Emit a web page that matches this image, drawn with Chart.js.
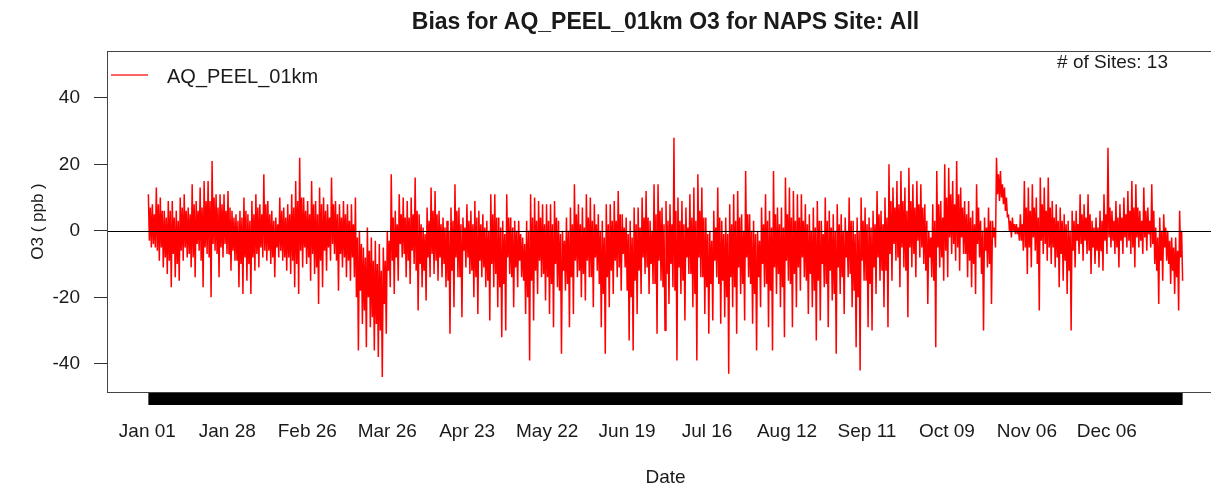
<!DOCTYPE html>
<html>
<head>
<meta charset="utf-8">
<title>Bias for AQ_PEEL_01km O3</title>
<script src="https://cdn.jsdelivr.net/npm/chart.js@4.4.1/dist/chart.umd.min.js"></script>
<style>
  html, body { margin: 0; padding: 0; background: #fff; overflow: hidden; }
  #wrap { position: relative; width: 1240px; height: 489px; }
</style>
</head>
<body>
<div id="wrap"><canvas id="biasChart"></canvas></div>
<script>
const chartTitle = 'Bias for AQ_PEEL_01km O3 for NAPS Site: All'
const seriesName = 'AQ_PEEL_01km'
const siteNote = '# of Sites: 13'
const yTitle = 'O3 ( ppb )'
const xTitle = 'Date'

const xTickLabels = ['Jan 01', 'Jan 28', 'Feb 26', 'Mar 26', 'Apr 23', 'May 22',
    'Jun 19', 'Jul 16', 'Aug 12', 'Sep 11', 'Oct 09', 'Nov 06', 'Dec 06']
const yTickValues = [-40, -20, 0, 20, 40]

// hourly bias squeezed into columns: highest and lowest hour in each column
const biasHigh = [
    11, 8, 13, 10, 6, 9, 9, 6, 10, 11, 7, 14, 9, 13, 15, 15, 21, 11, 11, 11,
    12, 6, 5, 6, 10, 5, 9, 11, 8, 17, 9,
    6, 4, 10, 7, 8, 11, 15, 22, 10, 9, 15, 9, 13, 10, 8, 16, 9, 8, 9, 8,
    8, 10, 0, -5, 1, -2, -3, -4, -5, 0, 17, 6, 11,
    10, 9, 10, 16, 5, 1, 7, 13, 12, 6, 4, 3, 7, 14, 7, 4, 8, 6, 9, 6,
    5, 3, 11, 11, 4, 3, 11, 4, 3, 3, -2, 3, 11,
    10, 9, 8, 8, 8, 9, 3, 0, 4, 7, 14, 8, 7, 11, 10, 8, 5, 3, 8, 8,
    9, 12, 5, 4, 3, 7, 7, 10, 12, 3, 14, 14,
    7, 9, 8, 28, 10, 9, 7, 11, 13, 17, 13, 4, 0, 6, 13, 3, 4, 8, 11, 12,
    5, 18, 5, 3, 0, 7, 11, 6, 18, 7, 7, 16,
    13, 12, 11, 11, 8, 5, 7, 9, 3, 10, 6, 5, 8, 5, 4, 10, 3, 4, 10, 7,
    4, 6, 12, 6, 10, 20, 13, 15, 18, 13, 19, 14, 15,
    14, 8, 0, 8, 18, 9, 20, 19, 15, 21, 13, 9, 9, 6, 14, 3, 4, 7, 3, 22,
    18, 13, 5, 4, 2, 5, 15, 13, 14, 10, 16, 13,
    16, 9, 8, 7, 5, 3, 6, 6, 11, 8, 11, 3, 4, 6, 11, 25, 6, 9, 8, 10,
    12, 15, 14, 6, 13, 7, 14, 1, 4, 5, 0, -2, -2, 6
]
const biasLow = [
    -5, -5, -9, -11, -13, -17, -14, -15, -9, -8, -11, -14, -6, -17, -7, -20, -6, -14, -8, -7,
    -12, -9, -17, -19, -15, -19, -12, -11, -8, -9, -10,
    -14, -8, -9, -12, -13, -17, -19, -11, -10, -15, -13, -22, -17, -12, -9, -7, -18, -11, -14, -15,
    -14, -36, -28, -35, -29, -36, -38, -44, -31, -17, -19, -15, -8,
    -14, -16, -10, -24, -17, -21, -14, -13, -15, -14, -17, -31, -23, -14, -26, -11, -13, -20, -25, -14,
    -17, -27, -17, -23, -32, -30, -13, -23, -17, -14, -25, -39, -27,
    -19, -14, -21, -25, -29, -17, -37, -18, -29, -25, -14, -20, -21, -14, -23, -12, -29, -37, -23, -19,
    -14, -18, -11, -33, -36, -25, -19, -13, -19, -16, -31, -15,
    -30, -22, -17, -39, -19, -27, -13, -23, -39, -14, -25, -31, -27, -14, -28, -26, -43, -23, -31, -19,
    -27, -14, -28, -36, -23, -17, -29, -36, -19, -23, -32, -15,
    -29, -23, -18, -14, -25, -23, -33, -27, -17, -29, -21, -37, -19, -25, -14, -23, -35, -42, -15, -29,
    -30, -19, -15, -23, -29, -15, -9, -17, -11, -26, -11, -14, -8,
    -10, -22, -14, -35, -11, -15, -14, -7, -9, -12, -7, -14, -17, -19, -8, -30, -11, -22, -5, 9,
    8, 4, -2, -1, -3, -6, -13, -11, -6, -24, -7, -9,
    -10, -11, -17, -15, -19, -30, -11, -7, -9, -7, -13, -10, -11, -12, -7, -5, -7, -11, -7, -5,
    -7, -11, -5, -7, -6, -5, -10, -22, -15, -9, -16, -19, -24, -15
]

// the band where most hours of each column sit
const coreHigh = [
    7, 5, 8, 6, 4, 6, 4, 3, 7, 6,
    5, 8, 6, 7, 9, 9, 10, 7, 8, 6,
    7, 4, 3, 4, 6, 3, 5, 7, 5, 8,
    5, 3, 2, 6, 4, 5, 7, 9, 10, 6,
    5, 8, 5, 8, 6, 4, 8, 5, 4, 5,
    3, 2, -2, -4, -8, -6, -9, -10, -12, -9,
    -3, 4, 2, 5, 4, 4, 5, 6, 2, -1,
    3, 6, 5, 2, 1, 0, 3, 6, 2, 1,
    3, 2, 4, 2, 1, 0, 5, 4, 1, -1,
    4, 1, 0, -1, -4, 0, 4, 3, 4, 2,
    3, 2, 4, -1, -3, 0, 2, 5, 2, 1,
    4, 3, 2, 0, -2, 2, 3, 3, 5, 1,
    -1, -2, 2, 1, 4, 4, 0, 5, 6, 2,
    3, 2, 6, 3, 2, 1, 4, 3, 6, 4,
    -1, -3, 1, 4, -1, -1, 2, 3, 4, 0,
    5, 0, -1, -3, 2, 3, 1, 5, 2, 1,
    5, 4, 3, 4, 3, 2, 0, 1, 3, -1,
    3, 1, 0, 2, 0, 0, 3, -1, 0, 3,
    2, 1, 2, 5, 2, 4, 9, 7, 8, 9,
    6, 9, 7, 8, 7, 3, -2, 3, 8, 4,
    10, 11, 8, 11, 7, 5, 4, 2, 7, 0,
    1, 3, 1, 17, 14, 10, 3, 2, 1, 2,
    7, 6, 7, 4, 8, 6, 7, 4, 3, 3,
    2, 0, 3, 2, 5, 4, 5, 1, 1, 3,
    5, 7, 3, 4, 4, 5, 6, 7, 7, 3,
    6, 3, 6, -2, 0, 1, -3, -5, -6, 0
]
const coreLow = [
    -3, -4, -6, -5, -8, -9, -7, -10, -6, -5,
    -7, -8, -4, -9, -5, -8, -4, -7, -5, -4,
    -7, -6, -9, -10, -8, -10, -8, -7, -5, -6,
    -6, -8, -5, -6, -8, -8, -9, -10, -6, -5,
    -8, -7, -11, -9, -6, -5, -4, -9, -7, -8,
    -9, -8, -20, -18, -24, -20, -26, -28, -30, -22,
    -12, -9, -8, -4, -7, -9, -6, -12, -10, -12,
    -8, -7, -9, -8, -10, -15, -12, -8, -14, -6,
    -8, -12, -14, -9, -11, -15, -10, -13, -17, -16,
    -8, -14, -11, -9, -15, -20, -15, -12, -9, -13,
    -14, -16, -10, -18, -12, -16, -14, -9, -12, -13,
    -9, -14, -8, -16, -19, -14, -12, -9, -11, -7,
    -18, -20, -15, -12, -8, -11, -10, -16, -9, -17,
    -13, -10, -18, -11, -15, -8, -13, -19, -8, -14,
    -17, -16, -9, -16, -15, -20, -14, -17, -11, -16,
    -8, -16, -19, -14, -10, -16, -18, -11, -13, -17,
    -9, -16, -13, -11, -8, -15, -13, -18, -15, -10,
    -16, -12, -19, -11, -14, -8, -13, -18, -20, -9,
    -15, -16, -11, -8, -12, -12, -7, -4, -8, -5,
    -12, -5, -7, -3, -5, -12, -8, -15, -5, -8,
    -6, -2, -4, -5, -2, -7, -9, -10, -4, -13,
    -6, -10, -2, 11, 10, 6, 0, 0, -1, -3,
    -5, -5, -2, -10, -3, -4, -5, -5, -8, -7,
    -9, -12, -6, -3, -4, -3, -6, -5, -6, -6,
    -3, -2, -3, -5, -3, -2, -3, -5, -2, -3,
    -2, -1, -4, -12, -9, -5, -10, -12, -14, -8
]

const fontFamily = '"Liberation Sans", Arial, sans-serif'
const textColor = '#1a1a1a'
const xTickStep = 20.08

// trace each column top -> core -> bottom so the hours read as one dense band
const points = []
biasHigh.forEach((hi, i) => {
    points.push({ x: i, y: hi })
    points.push({ x: i + 0.25, y: coreLow[i] })
    points.push({ x: i + 0.5, y: coreHigh[i] })
    points.push({ x: i + 0.75, y: biasLow[i] })
})
const lastX = biasHigh.length - 0.25
const xPad = lastX * 0.04

const decorations = {
    id: 'decorations',
    afterDatasetsDraw(chart) {
        const { ctx, chartArea: a, scales: { x, y } } = chart
        ctx.save()

        // zero reference line
        const y0 = Math.round(y.getPixelForValue(0)) + 0.5
        ctx.strokeStyle = '#000'
        ctx.lineWidth = 1
        ctx.beginPath()
        ctx.moveTo(a.left, y0)
        ctx.lineTo(a.right, y0)
        ctx.stroke()

        // plot frame
        ctx.strokeStyle = '#444'
        ctx.strokeRect(a.left + 0.5, a.top + 0.5, a.right - a.left, a.bottom - a.top)

        // the hourly ticks are so close together they merge into a bar
        const bx0 = x.getPixelForValue(0)
        const bx1 = x.getPixelForValue(lastX)
        ctx.fillStyle = '#000'
        ctx.fillRect(bx0, a.bottom + 1, bx1 - bx0, 12)

        // legend
        ctx.strokeStyle = '#ff3030'
        ctx.lineWidth = 1.5
        ctx.beginPath()
        ctx.moveTo(a.left + 4, 75)
        ctx.lineTo(a.left + 41, 75)
        ctx.stroke()
        ctx.fillStyle = textColor
        ctx.font = '20px ' + fontFamily
        ctx.textAlign = 'left'
        ctx.textBaseline = 'alphabetic'
        ctx.fillText(seriesName, a.left + 60, 83)

        ctx.textAlign = 'right'
        ctx.font = '19px ' + fontFamily
        ctx.fillText(siteNote, a.right - 56, 68)

        // title
        ctx.textAlign = 'center'
        ctx.font = 'bold 23px ' + fontFamily
        ctx.fillText(chartTitle, (a.left + a.right) / 2, 29)

        ctx.restore()
    }
}

new Chart(document.getElementById('biasChart'), {
    type: 'line',
    data: {
        datasets: [{
            label: seriesName,
            data: points,
            borderColor: '#ff0000',
            borderWidth: 1.5,
            borderJoinStyle: 'bevel',
            pointRadius: 0,
            tension: 0,
            fill: false
        }]
    },
    options: {
        responsive: true,
        maintainAspectRatio: false,
        animation: false,
        layout: { padding: { top: 51, right: 16, left: 0, bottom: 0 } },
        plugins: {
            legend: { display: false },
            title: { display: false },
            tooltip: { enabled: false }
        },
        scales: {
            x: {
                type: 'linear',
                min: -xPad,
                max: lastX + xPad,
                afterBuildTicks(scale) {
                    scale.ticks = xTickLabels.map((_, i) => ({ value: i * xTickStep - 0.25 }))
                },
                afterFit(scale) { scale.height = 97 },
                ticks: {
                    autoSkip: false,
                    maxRotation: 0,
                    padding: 20,
                    color: textColor,
                    font: { family: fontFamily, size: 19 },
                    callback: (value, index) => xTickLabels[index]
                },
                grid: { display: false },
                border: { display: false },
                title: {
                    display: true,
                    text: xTitle,
                    color: textColor,
                    font: { family: fontFamily, size: 19 },
                    padding: { top: 0, bottom: 0 }
                }
            },
            y: {
                min: -48.5,
                max: 54.1,
                afterBuildTicks(scale) {
                    scale.ticks = yTickValues.map(v => ({ value: v }))
                },
                afterFit(scale) { scale.width = 107 },
                ticks: {
                    padding: 14,
                    color: textColor,
                    font: { family: fontFamily, size: 19 }
                },
                grid: {
                    display: true,
                    drawOnChartArea: false,
                    drawTicks: true,
                    tickLength: 13,
                    color: '#333'
                },
                border: { display: false },
                title: {
                    display: true,
                    text: yTitle,
                    color: textColor,
                    font: { family: fontFamily, size: 17 },
                    padding: { top: 28, bottom: 0 }
                }
            }
        }
    },
    plugins: [decorations]
})
</script>
</body>
</html>
